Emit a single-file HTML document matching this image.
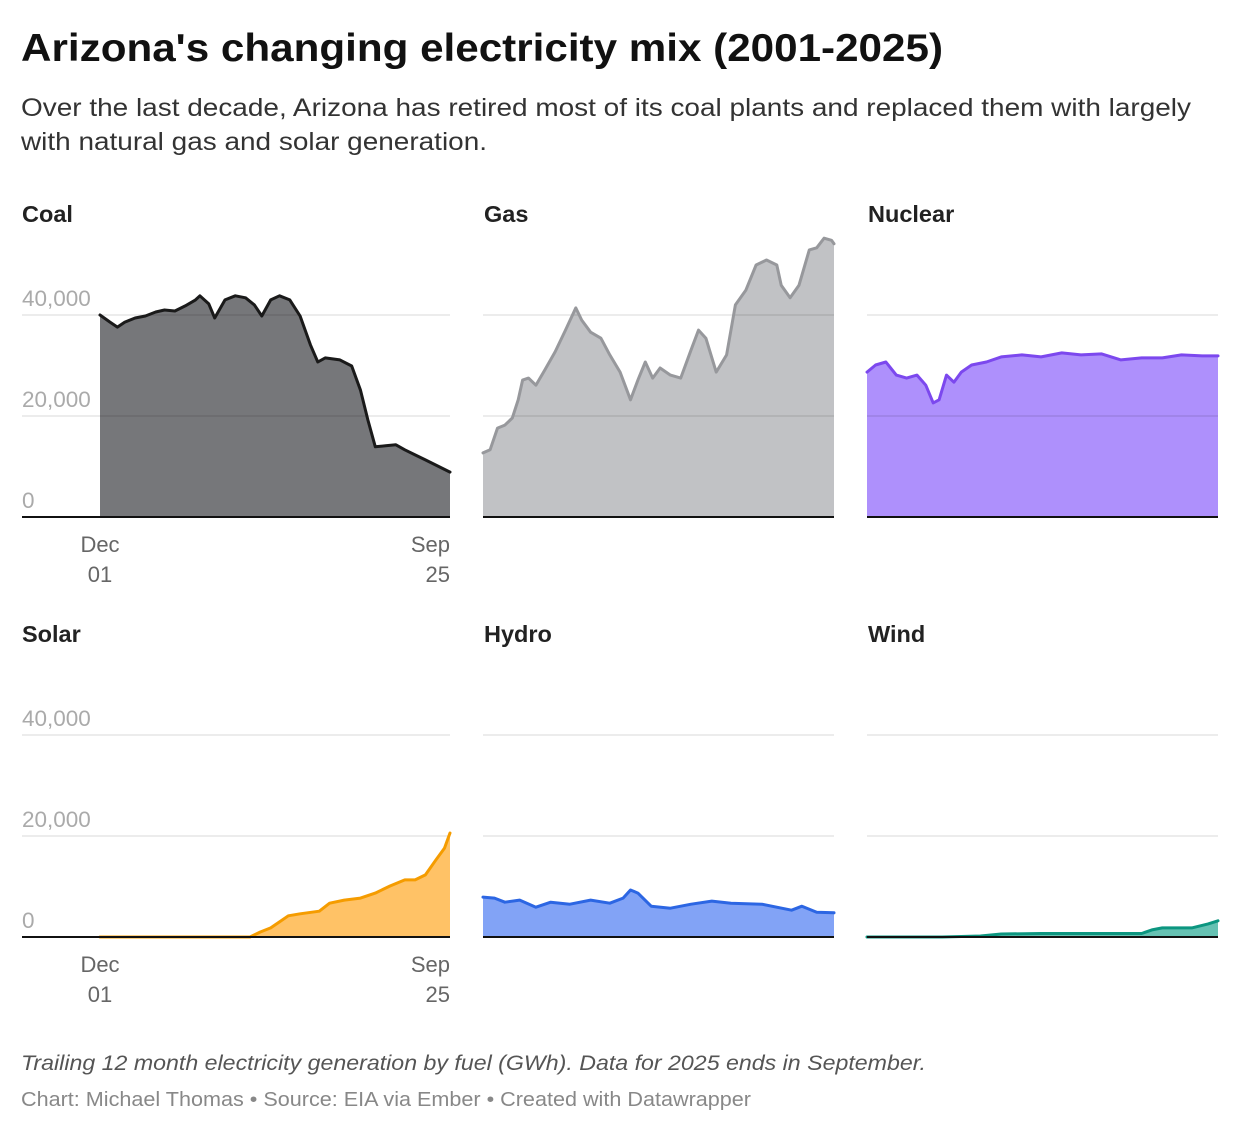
<!DOCTYPE html>
<html><head><meta charset="utf-8">
<style>
body{margin:0;background:#fff;font-family:"Liberation Sans",Arial,sans-serif;}
svg{display:block}
</style></head>
<body>
<svg id="chart" width="1240" height="1132" viewBox="0 0 1240 1132" xmlns="http://www.w3.org/2000/svg">
<text x="21" y="61" font-size="39" font-weight="bold" fill="#111" textLength="922" lengthAdjust="spacingAndGlyphs">Arizona's changing electricity mix (2001-2025)</text>
<text font-size="25" fill="#333"><tspan x="21" y="116" textLength="1170" lengthAdjust="spacingAndGlyphs">Over the last decade, Arizona has retired most of its coal plants and replaced them with largely</tspan><tspan x="21" y="150" textLength="466" lengthAdjust="spacingAndGlyphs">with natural gas and solar generation.</tspan></text>
<g id="panels"></g>
<text x="21" y="1070" font-size="21" font-style="italic" fill="#555" textLength="905" lengthAdjust="spacingAndGlyphs">Trailing 12 month electricity generation by fuel (GWh). Data for 2025 ends in September.</text>
<text x="21" y="1106" font-size="20" fill="#888" textLength="730" lengthAdjust="spacingAndGlyphs">Chart: Michael Thomas • Source: EIA via Ember • Created with Datawrapper</text>
</svg>
<script>
const yTicks=[0,20000,40000];
const yTickLabels=["0","20,000","40,000"];
const xTickYears=[2001.92,2025.67];
const xTickLabels=[["Dec","01"],["Sep","25"]];
const coalYears=[2001.92,2002.6,2003.1,2003.6,2004.3,2005.0,2005.7,2006.3,2007.0,2007.7,2008.4,2008.7,2009.3,2009.7,2010.4,2011.1,2011.8,2012.4,2012.9,2013.5,2014.1,2014.8,2015.5,2016.2,2016.7,2017.2,2018.2,2019.0,2019.6,2020.1,2020.6,2021.3,2022.0,2022.6,2023.3,2024.0,2024.7,2025.67];
const coalValues=[40000,38600,37600,38600,39400,39800,40600,41000,40800,41800,43000,43800,42200,39400,43000,43800,43400,42000,39800,43000,43800,43000,39800,34100,30700,31500,31100,29900,25100,19200,13900,14100,14300,13300,12300,11300,10300,8900];
const gasYears=[2001.92,2002.4,2002.9,2003.4,2003.9,2004.3,2004.6,2005.0,2005.5,2006.1,2006.8,2007.5,2008.2,2008.6,2009.2,2009.9,2010.5,2011.2,2011.9,2012.4,2012.9,2013.4,2013.9,2014.6,2015.3,2016.0,2016.5,2017.0,2017.7,2018.4,2019.0,2019.7,2020.4,2021.1,2021.8,2022.1,2022.7,2023.3,2024.0,2024.5,2025.0,2025.5,2025.67];
const gasValues=[12700,13300,17600,18200,19600,23200,27100,27500,26100,29100,32700,37000,41400,39000,36600,35400,32100,28700,23200,27100,30700,27500,29500,28100,27500,33100,37000,35400,28700,32100,42000,44900,49900,50900,49900,45900,43400,45900,52900,53300,55200,54800,54100];
const nuclearYears=[2001.92,2002.5,2003.2,2003.9,2004.6,2005.3,2005.9,2006.4,2006.8,2007.3,2007.8,2008.3,2009.0,2010.0,2011.0,2012.4,2013.7,2015.1,2016.4,2017.8,2019.1,2020.5,2021.9,2023.2,2024.6,2025.67];
const nuclearValues=[28700,30100,30700,28100,27500,28100,26100,22600,23200,28100,26700,28700,30100,30700,31700,32100,31700,32500,32100,32300,31100,31500,31500,32100,31900,31900];
const solarYears=[2001.92,2012.1,2012.8,2013.5,2014.1,2014.7,2015.5,2016.8,2017.5,2018.5,2019.6,2020.6,2021.6,2022.6,2023.3,2024.0,2024.7,2025.3,2025.67];
const solarValues=[0,0,1000,1800,3000,4200,4600,5100,6700,7300,7700,8700,10100,11300,11300,12300,15200,17600,20600];
const hydroYears=[2001.92,2002.7,2003.4,2004.4,2005.5,2006.5,2007.8,2009.2,2010.5,2011.4,2011.9,2012.4,2013.3,2014.6,2016.0,2017.4,2018.7,2020.8,2022.8,2023.5,2024.5,2025.67];
const hydroValues=[7900,7700,6900,7300,5900,6900,6500,7300,6700,7700,9300,8700,6100,5700,6500,7100,6700,6500,5300,6100,4900,4800];
const windYears=[2001.92,2007.0,2009.6,2011.0,2013.7,2017.8,2020.5,2021.2,2021.9,2023.9,2025.0,2025.67];
const windValues=[0,0,200,600,700,700,700,1400,1800,1800,2600,3200];

const panels=[
 {name:"Coal",years:coalYears,values:coalValues,x0:100,x1:450,base:517,line:"#1a1a1a",fill:"#76777a",axis:true},
 {name:"Gas",years:gasYears,values:gasValues,x0:483,x1:834,base:517,line:"#97989c",fill:"#c1c2c5",axis:false},
 {name:"Nuclear",years:nuclearYears,values:nuclearValues,x0:867,x1:1218,base:517,line:"#7c48ee",fill:"#ae90fc",axis:false},
 {name:"Solar",years:solarYears,values:solarValues,x0:100,x1:450,base:937,line:"#f59c00",fill:"#ffc266",axis:true},
 {name:"Hydro",years:hydroYears,values:hydroValues,x0:483,x1:834,base:937,line:"#2c66e3",fill:"#82a3f6",axis:false},
 {name:"Wind",years:windYears,values:windValues,x0:867,x1:1218,base:937,line:"#0c9680",fill:"#66c2b3",axis:false}
];
const NS="http://www.w3.org/2000/svg";
const root=document.getElementById("panels");
function mk(tag,attrs){const e=document.createElementNS(NS,tag);for(const k in attrs)e.setAttribute(k,attrs[k]);return e;}
panels.forEach(p=>{
 const g=mk("g",{});
 
 
 root.appendChild(g);
 const xs=y=>p.x0+(y-xTickYears[0])/(xTickYears[1]-xTickYears[0])*(p.x1-p.x0);
 const ys=v=>p.base-v/20000*101;
 const gl=p.axis?22:p.x0;
 const t=mk("text",{x:p.axis?22:p.x0+1,y:p.base-295,"font-size":"23.5","font-weight":"bold",fill:"#222"});
 t.textContent=p.name;
 
 
 g.appendChild(t);
 let d="M"+xs(p.years[0])+","+p.base;
 p.years.forEach((y,i)=>{d+=" L"+xs(y).toFixed(1)+","+ys(p.values[i]).toFixed(1);});
 d+=" L"+xs(p.years[p.years.length-1])+","+p.base+" Z";
 const area=mk("path",{d:d,fill:p.fill});
 
 
 g.appendChild(area);
 yTicks.forEach((v,i)=>{
  if(v>0){
   const l=mk("line",{x1:gl,x2:p.x1,y1:ys(v),y2:ys(v),stroke:"#000","stroke-opacity":"0.1","stroke-width":"1.5"});
   
   
   g.appendChild(l);
  }
  if(p.axis){
   const lt=mk("text",{x:22,y:ys(v)-9,"font-size":"22.5",fill:"#aaa"});
   lt.textContent=yTickLabels[i];
   
   
   g.appendChild(lt);
  }
 });
 let ld="";
 p.years.forEach((y,i)=>{ld+=(i?" L":"M")+xs(y).toFixed(1)+","+ys(p.values[i]).toFixed(1);});
 const line=mk("path",{d:ld,fill:"none",stroke:p.line,"stroke-width":"3","stroke-linejoin":"round","stroke-linecap":"round"});
 
 
 g.appendChild(line);
 const b=mk("line",{x1:gl,x2:p.x1,y1:p.base,y2:p.base,stroke:"#111","stroke-width":"2"});
 
 
 g.appendChild(b);
 if(p.axis){
  xTickYears.forEach((y,i)=>{
   const anchor=i==0?"middle":"end";
   const xx=i==0?xs(y):p.x1;
   xTickLabels[i].forEach((s,j)=>{
    const xt=mk("text",{x:xx,y:p.base+35+j*30,"font-size":"22",fill:"#666","text-anchor":anchor});
    xt.textContent=s;
    
    
    g.appendChild(xt);
   });
  });
 }
});
</script>
</body></html>
